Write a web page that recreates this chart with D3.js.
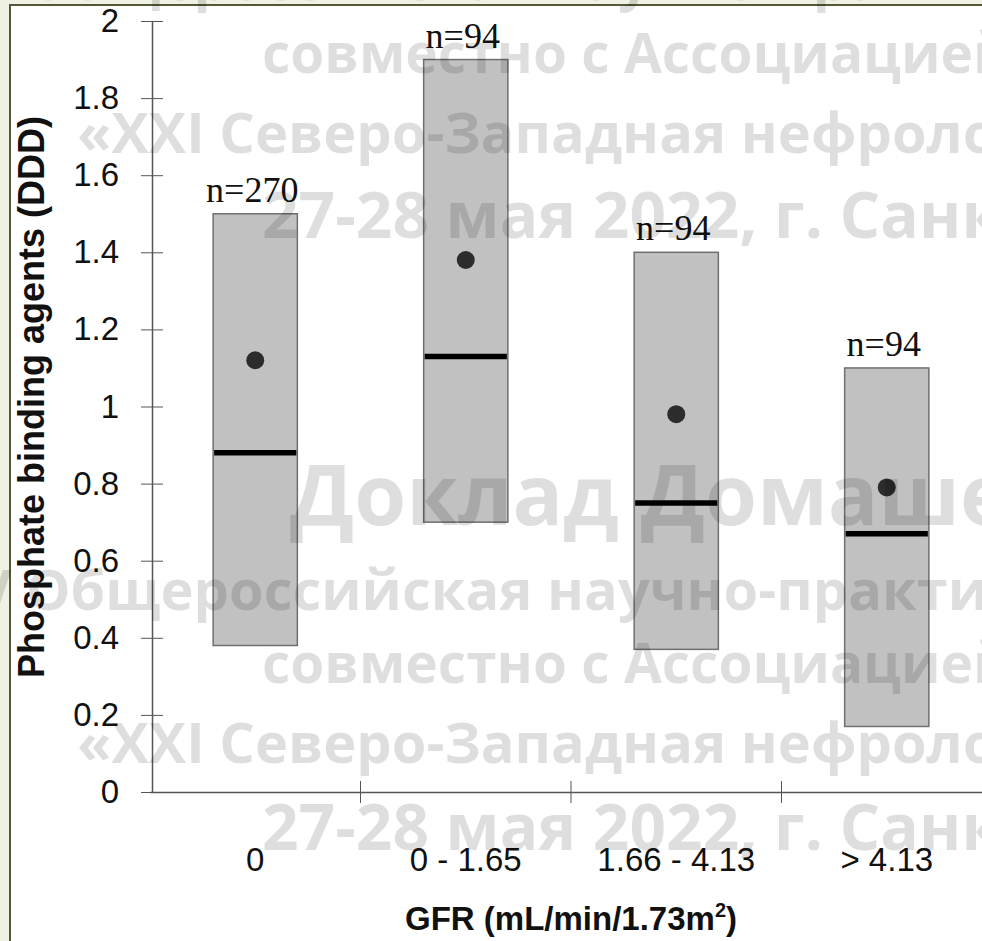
<!DOCTYPE html>
<html>
<head>
<meta charset="utf-8">
<script src="https://cdn.jsdelivr.net/npm/d3@7"></script>
<style>
  html, body { margin: 0; padding: 0; background: #eef1e3; overflow: hidden; }
  svg { display: block; }
</style>
</head>
<body>
<div id="chart"></div>
<script>
// data
const categories = ["0", "0 - 1.65", "1.66 - 4.13", "> 4.13"];
const counts = ["n=270", "n=94", "n=94", "n=94"];
const boxTop = [1.50, 1.90, 1.40, 1.10];
const boxBottom = [0.38, 0.70, 0.37, 0.17];
const medians = [0.88, 1.13, 0.75, 0.67];
const means = [1.12, 1.38, 0.98, 0.79];
const yTickValues = [0, 0.2, 0.4, 0.6, 0.8, 1, 1.2, 1.4, 1.6, 1.8, 2];
const yTickLabels = ["0", "0.2", "0.4", "0.6", "0.8", "1", "1.2", "1.4", "1.6", "1.8", "2"];
const watermarkLines = [
  "V Общероссийская научно-практическая конференция",
  "совместно с Ассоциацией нефрологов",
  "«XXI Северо-Западная нефрологическая школа»",
  "27-28 мая 2022, г. Санкт-Петербург",
  "Доклад Домашенко"
];

const W = 982, H = 941;
const svg = d3.select("#chart").append("svg")
    .attr("width", W)
    .attr("height", H);

// slide frame
svg.append("rect")
    .attr("x", 10).attr("y", 5)
    .attr("width", W + 20).attr("height", H + 20)
    .attr("fill", "#ffffff")
    .attr("stroke", "#57553a")
    .attr("stroke-width", 2);

const x = d3.scaleBand()
    .domain(categories)
    .range([150, 992])
    .padding(0);

const y = d3.scaleLinear()
    .domain([0, 2])
    .range([792, 21]);

const data = categories.map((c, i) => ({
  cat: c, n: counts[i], hi: boxTop[i], lo: boxBottom[i], med: medians[i], mean: means[i]
}));

const boxW = x.bandwidth() * 0.4;

// boxes
const g = svg.selectAll(".box")
  .data(data)
  .join("g")
    .attr("class", "box")
    .attr("transform", d => `translate(${x(d.cat) + (x.bandwidth() - boxW) / 2},0)`);

g.append("rect")
    .attr("x", 0)
    .attr("y", d => y(d.hi))
    .attr("width", boxW)
    .attr("height", d => y(d.lo) - y(d.hi))
    .attr("fill", "#c1c1c1")
    .attr("stroke", "#6f6f6f")
    .attr("stroke-width", 1.5);

g.append("line")
    .attr("x1", 1).attr("x2", boxW - 1)
    .attr("y1", d => y(d.med)).attr("y2", d => y(d.med))
    .attr("stroke", "#000")
    .attr("stroke-width", 5.5);

g.append("circle")
    .attr("cx", boxW / 2)
    .attr("cy", d => y(d.mean))
    .attr("r", 9)
    .attr("fill", "#2c2c2c");

g.append("text")
    .attr("x", boxW / 2 - 3)
    .attr("y", d => y(d.hi) - 12)
    .attr("text-anchor", "middle")
    .style("font-family", "'Liberation Serif', 'Times New Roman', serif")
    .style("font-size", "36px")
    .attr("fill", "#111")
    .text(d => d.n);

// y axis
const yAxis = svg.append("g")
    .attr("transform", "translate(152,0)")
    .call(d3.axisLeft(y)
      .tickValues(yTickValues)
      .tickFormat((d, i) => yTickLabels[i])
      .tickSize(11)
      .tickSizeOuter(0)
      .tickPadding(22));
yAxis.selectAll(".tick line").attr("x1", 11);
yAxis.selectAll(".tick text")
    .style("font-family", "'Liberation Sans', Arial, sans-serif")
    .style("font-size", "33px")
    .attr("fill", "#111");

// x axis
const xAxis = svg.append("g")
    .attr("transform", "translate(0,792)")
    .call(d3.axisBottom(x).tickSize(0).tickSizeOuter(0).tickPadding(56));
xAxis.selectAll(".tick text")
    .style("font-family", "'Liberation Sans', Arial, sans-serif")
    .style("font-size", "33px")
    .attr("fill", "#111");
xAxis.selectAll(".boundary")
  .data(categories.slice(1))
  .join("line")
    .attr("class", "boundary")
    .attr("x1", d => x(d)).attr("x2", d => x(d))
    .attr("y1", -11).attr("y2", 11)
    .attr("stroke", "#555");
svg.selectAll(".domain").attr("stroke", "#555").attr("stroke-width", 1.5);
svg.selectAll(".tick line").attr("stroke", "#555");

// axis titles
svg.append("text")
    .attr("transform", "translate(44,397) rotate(-90)")
    .attr("text-anchor", "middle")
    .style("font-family", "'Liberation Sans', Arial, sans-serif")
    .style("font-size", "36px")
    .style("font-weight", "bold")
    .attr("fill", "#111")
    .text("Phosphate binding agents (DDD)");

const xt = svg.append("text")
    .attr("x", (x.range()[0] + x.range()[1]) / 2)
    .attr("y", 930)
    .attr("text-anchor", "middle")
    .style("font-family", "'Liberation Sans', Arial, sans-serif")
    .style("font-size", "33px")
    .style("font-weight", "bold")
    .attr("fill", "#111");
xt.append("tspan").text("GFR (mL/min/1.73m");
xt.append("tspan").attr("dy", -13).style("font-size", "20px").text("2");
xt.append("tspan").attr("dy", 13).text(")");

// conference watermark over the slide
const wmRows = [
  { line: 0, x: -25, y: 0, size: 56 },
  { line: 1, x: 262, y: 73, size: 55 },
  { line: 2, x: 77, y: 153, size: 56 },
  { line: 3, x: 262, y: 238, size: 64 },
  { line: 4, x: 290, y: 525, size: 84 },
  { line: 0, x: -25, y: 610, size: 56 },
  { line: 1, x: 262, y: 683, size: 55 },
  { line: 2, x: 77, y: 763, size: 56 },
  { line: 3, x: 262, y: 850, size: 64 }
];
svg.append("g")
    .attr("class", "watermark")
  .selectAll("text")
  .data(wmRows)
  .join("text")
    .attr("x", d => d.x)
    .attr("y", d => d.y)
    .style("font-family", "'Open Sans', sans-serif")
    .style("font-weight", "bold")
    .style("font-size", d => d.size + "px")
    .attr("fill", "#000")
    .attr("fill-opacity", 0.13)
    .text(d => watermarkLines[d.line]);
</script>
</body>
</html>
